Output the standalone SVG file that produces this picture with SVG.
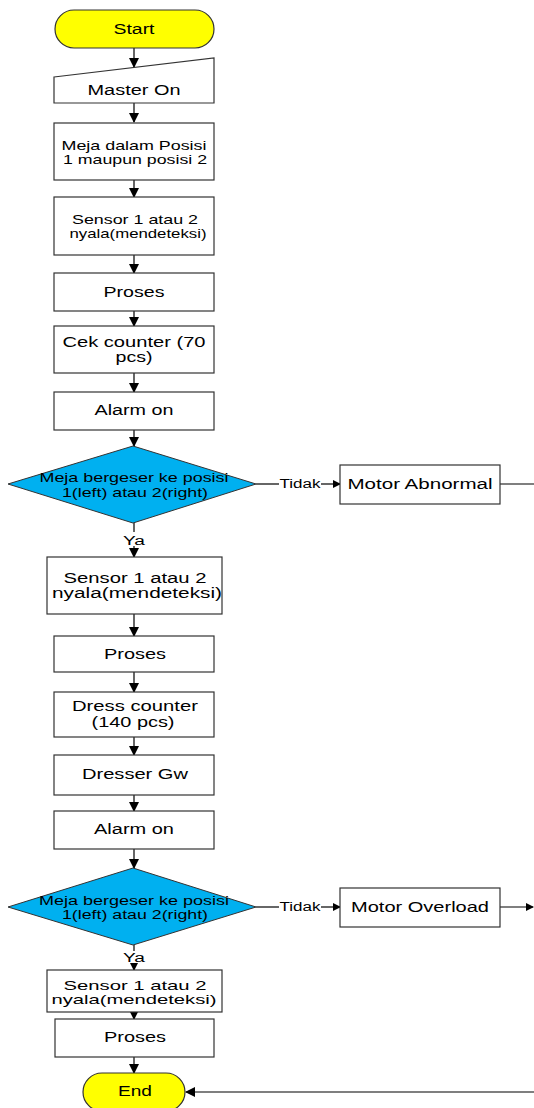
<svg xmlns="http://www.w3.org/2000/svg" width="534" height="1108" viewBox="0 0 534 1108">
<defs>
<marker id="ah" markerWidth="10" markerHeight="10" refX="9" refY="5" orient="auto" markerUnits="userSpaceOnUse">
<path d="M0,0 L10,5 L0,10 Z" fill="#000"/>
</marker>
<marker id="ahs" markerWidth="8" markerHeight="8" refX="7" refY="4" orient="auto" markerUnits="userSpaceOnUse">
<path d="M0,0 L8,4 L0,8 Z" fill="#000"/>
</marker>
<style>
.box{fill:#fff;stroke:#333;stroke-width:1.2}
.term{fill:#ffff00;stroke:#333;stroke-width:1.2}
.dec{fill:#00b0f0;stroke:#333;stroke-width:1}
.t{font-family:"Liberation Sans",Arial,sans-serif;font-size:14px;fill:#000;text-anchor:middle}
.m{font-family:"Liberation Sans",Arial,sans-serif;font-size:13px;fill:#000;text-anchor:middle}
.s{font-family:"Liberation Sans",Arial,sans-serif;font-size:12px;fill:#000;text-anchor:middle}
.c{stroke:#000;stroke-width:1.2;fill:none}
</style>
</defs>
<rect width="534" height="1108" fill="#fff"/>
<g id="connectors">
<line class="c" x1="134" y1="48" x2="134" y2="67" marker-end="url(#ah)"/>
<line class="c" x1="134" y1="103" x2="134" y2="122" marker-end="url(#ah)"/>
<line class="c" x1="134" y1="180" x2="134" y2="197" marker-end="url(#ah)"/>
<line class="c" x1="134" y1="255" x2="134" y2="273" marker-end="url(#ah)"/>
<line class="c" x1="134" y1="311" x2="134" y2="326" marker-end="url(#ah)"/>
<line class="c" x1="134" y1="373" x2="134" y2="392" marker-end="url(#ah)"/>
<line class="c" x1="134" y1="430" x2="134" y2="446" marker-end="url(#ah)"/>
<line class="c" x1="256" y1="484" x2="279" y2="484"/>
<line class="c" x1="321" y1="484" x2="340" y2="484" marker-end="url(#ahs)"/>
<line class="c" x1="500" y1="484" x2="534" y2="484"/>
<line class="c" x1="134" y1="523" x2="134" y2="532"/>
<line class="c" x1="134" y1="546" x2="134" y2="557" marker-end="url(#ah)"/>
<line class="c" x1="134" y1="614" x2="134" y2="636" marker-end="url(#ah)"/>
<line class="c" x1="134" y1="672" x2="134" y2="692" marker-end="url(#ah)"/>
<line class="c" x1="134" y1="737" x2="134" y2="755" marker-end="url(#ah)"/>
<line class="c" x1="134" y1="795" x2="134" y2="811" marker-end="url(#ah)"/>
<line class="c" x1="134" y1="849" x2="134" y2="868" marker-end="url(#ah)"/>
<line class="c" x1="256" y1="907" x2="279" y2="907"/>
<line class="c" x1="321" y1="907" x2="340" y2="907" marker-end="url(#ahs)"/>
<line class="c" x1="500" y1="907" x2="533" y2="907" marker-end="url(#ahs)"/>
<line class="c" x1="134" y1="945" x2="134" y2="951"/>
<line class="c" x1="134" y1="963" x2="134" y2="970" marker-end="url(#ahs)"/>
<line class="c" x1="134" y1="1012" x2="134" y2="1019" marker-end="url(#ahs)"/>
<line class="c" x1="134" y1="1057" x2="134" y2="1073" marker-end="url(#ah)"/>
<line class="c" x1="534" y1="1092" x2="186" y2="1092" marker-end="url(#ah)"/>
<text class="s" x="300" y="488" textLength="41" lengthAdjust="spacingAndGlyphs">Tidak</text>
<text class="s" x="134" y="545" textLength="22" lengthAdjust="spacingAndGlyphs">Ya</text>
<text class="s" x="300" y="911" textLength="41" lengthAdjust="spacingAndGlyphs">Tidak</text>
<text class="s" x="134" y="962" textLength="22" lengthAdjust="spacingAndGlyphs">Ya</text>
</g>
<g id="start">
<rect class="term" x="55" y="10" width="159" height="38" rx="19" ry="19"/>
<text class="t" x="134" y="34" textLength="41" lengthAdjust="spacingAndGlyphs">Start</text>
</g>
<g id="master_on">
<path class="box" d="M54,77 L214,58 L214,103 L54,103 Z"/>
<text class="t" x="134" y="95" textLength="93" lengthAdjust="spacingAndGlyphs">Master On</text>
</g>
<g id="meja_posisi">
<rect class="box" x="54" y="123" width="160" height="57"/>
<text class="m" x="134" y="150" textLength="145" lengthAdjust="spacingAndGlyphs">Meja dalam Posisi</text>
<text class="m" x="135" y="164" textLength="144" lengthAdjust="spacingAndGlyphs">1 maupun posisi 2</text>
</g>
<g id="sensor1">
<rect class="box" x="54" y="197" width="160" height="58"/>
<text class="m" x="135" y="224" textLength="126" lengthAdjust="spacingAndGlyphs">Sensor 1 atau 2</text>
<text class="m" x="138" y="238" textLength="137" lengthAdjust="spacingAndGlyphs">nyala(mendeteksi)</text>
</g>
<g id="proses1">
<rect class="box" x="54" y="273" width="160" height="38"/>
<text class="t" x="134" y="297" textLength="61" lengthAdjust="spacingAndGlyphs">Proses</text>
</g>
<g id="cek_counter">
<rect class="box" x="54" y="326" width="160" height="47"/>
<text class="t" x="134" y="347" textLength="143" lengthAdjust="spacingAndGlyphs">Cek counter (70</text>
<text class="t" x="134" y="362" textLength="37" lengthAdjust="spacingAndGlyphs">pcs)</text>
</g>
<g id="alarm1">
<rect class="box" x="54" y="392" width="160" height="38"/>
<text class="t" x="134" y="415" textLength="79" lengthAdjust="spacingAndGlyphs">Alarm on</text>
</g>
<g id="decision1">
<path class="dec" d="M133,446 L256,484 L133,523 L8,484 Z"/>
<text class="m" x="134" y="482" textLength="189" lengthAdjust="spacingAndGlyphs">Meja bergeser ke posisi</text>
<text class="m" x="135" y="497" textLength="146" lengthAdjust="spacingAndGlyphs">1(left) atau 2(right)</text>
</g>
<g id="motor_abnormal">
<rect class="box" x="340" y="465" width="160" height="39"/>
<text class="t" x="420" y="489" textLength="145" lengthAdjust="spacingAndGlyphs">Motor Abnormal</text>
</g>
<g id="sensor2">
<rect class="box" x="47" y="557" width="175" height="57"/>
<text class="t" x="135" y="583" textLength="143" lengthAdjust="spacingAndGlyphs">Sensor 1 atau 2</text>
<text class="t" x="137" y="598" textLength="170" lengthAdjust="spacingAndGlyphs">nyala(mendeteksi)</text>
</g>
<g id="proses2">
<rect class="box" x="54" y="636" width="160" height="36"/>
<text class="t" x="135" y="659" textLength="62" lengthAdjust="spacingAndGlyphs">Proses</text>
</g>
<g id="dress_counter">
<rect class="box" x="54" y="692" width="160" height="45"/>
<text class="t" x="135" y="711" textLength="126" lengthAdjust="spacingAndGlyphs">Dress counter</text>
<text class="t" x="133" y="727" textLength="83" lengthAdjust="spacingAndGlyphs">(140 pcs)</text>
</g>
<g id="dresser_gw">
<rect class="box" x="54" y="755" width="160" height="40"/>
<text class="t" x="135" y="779" textLength="106" lengthAdjust="spacingAndGlyphs">Dresser Gw</text>
</g>
<g id="alarm2">
<rect class="box" x="54" y="811" width="160" height="38"/>
<text class="t" x="134" y="834" textLength="80" lengthAdjust="spacingAndGlyphs">Alarm on</text>
</g>
<g id="decision2">
<path class="dec" d="M133,868 L256,907 L133,945 L8,907 Z"/>
<text class="s" x="134" y="905" textLength="190" lengthAdjust="spacingAndGlyphs">Meja bergeser ke posisi</text>
<text class="s" x="135" y="919" textLength="146" lengthAdjust="spacingAndGlyphs">1(left) atau 2(right)</text>
</g>
<g id="motor_overload">
<rect class="box" x="340" y="888" width="160" height="39"/>
<text class="t" x="420" y="912" textLength="138" lengthAdjust="spacingAndGlyphs">Motor Overload</text>
</g>
<g id="sensor3">
<rect class="box" x="47" y="970" width="175" height="42"/>
<text class="m" x="135" y="990" textLength="143" lengthAdjust="spacingAndGlyphs">Sensor 1 atau 2</text>
<text class="m" x="134" y="1004" textLength="165" lengthAdjust="spacingAndGlyphs">nyala(mendeteksi)</text>
</g>
<g id="proses3">
<rect class="box" x="55" y="1019" width="159" height="38"/>
<text class="t" x="135" y="1042" textLength="62" lengthAdjust="spacingAndGlyphs">Proses</text>
</g>
<g id="end">
<rect class="term" x="83" y="1073" width="102" height="38" rx="19" ry="19"/>
<text class="t" x="135" y="1096" textLength="34" lengthAdjust="spacingAndGlyphs">End</text>
</g>
</svg>
